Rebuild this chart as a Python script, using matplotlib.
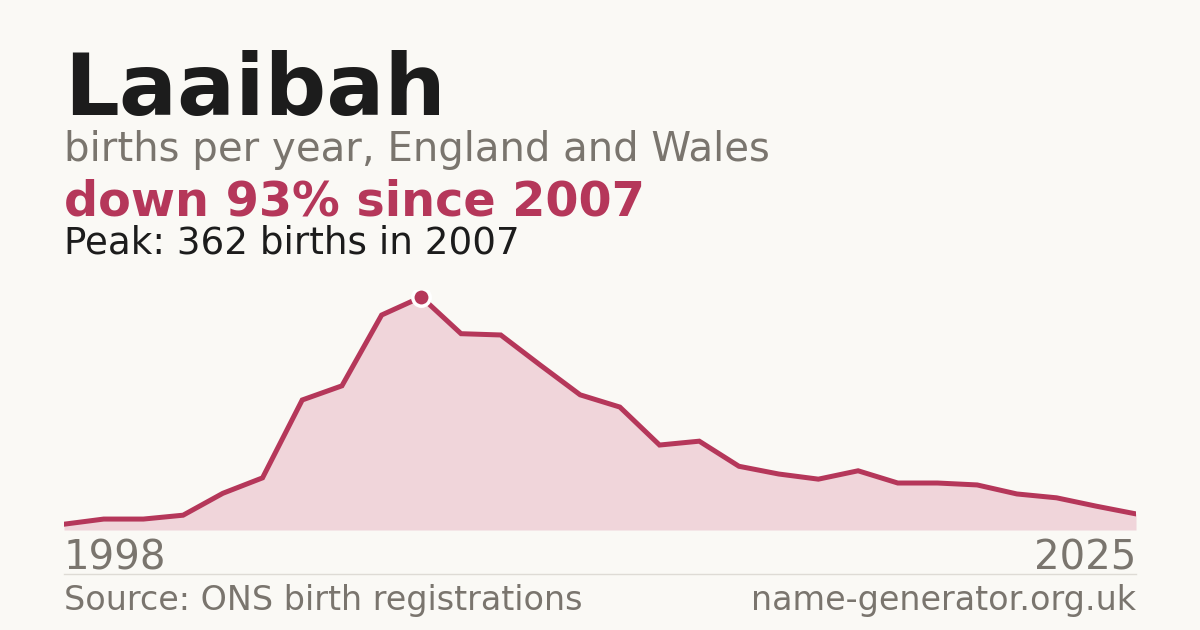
import numpy as np
import matplotlib
matplotlib.use("Agg")
from matplotlib import pyplot as plt

# births per year for the name
years = list(range(1998, 2026))
births = [9, 17, 17, 23, 57, 81, 202, 224, 334, 362, 305, 303, 256, 210,
          191, 132, 138, 99, 87, 79, 92, 73, 73, 70, 56, 50, 37, 25]

name = "Laaibah"
subtitle = "births per year, England and Wales"
source = "Source: ONS birth registrations"
site = "name-generator.org.uk"

bg = "#faf9f5"
red = "#b5375a"
fill = "#f0d5da"
grey = "#7a756e"

peak_i = int(np.argmax(births))
peak_year = years[peak_i]
peak_val = births[peak_i]
change = round((1 - births[-1] / peak_val) * 100)

fig = plt.figure(figsize=(12, 6.3), dpi=100, facecolor=bg)
W, H = 1200, 630

fig.text(64 / W, 1 - 115 / H, name, fontsize=62, fontweight="bold", color="#1c1c1c")
fig.text(64 / W, 1 - 161 / H, subtitle, fontsize=29, color=grey)
fig.text(64 / W, 1 - 215 / H, f"down {change}% since {peak_year}", fontsize=34.4,
         fontweight="bold", color=red)
fig.text(64 / W, 1 - 254 / H, f"Peak: {peak_val} births in {peak_year}", fontsize=26.8,
         color="#1c1c1c")

ax = fig.add_axes([64 / W, 1 - 530 / H, 1072 / W, 240 / H])
ax.set_facecolor(bg)
ax.fill_between(years, births, 0, color=fill, lw=0)
ax.plot(years, births, color=red, lw=3.6, solid_joinstyle="miter")
ax.plot(peak_year, peak_val, "o", ms=12.5, color=red, mec="white", mew=2.5, zorder=5)
ax.set_xlim(years[0], years[-1])
ax.set_ylim(0, peak_val * 240 / 233)
ax.axis("off")

fig.text(64 / W, 1 - 569 / H, str(years[0]), fontsize=29, color=grey)
fig.text(1136 / W, 1 - 569 / H, str(years[-1]), fontsize=29, color=grey, ha="right")
fig.add_artist(plt.Line2D([64 / W, 1136 / W], [1 - 574 / H] * 2, color="#dedbd5", lw=1))
fig.text(64 / W, 1 - 610 / H, source, fontsize=24, color=grey)
fig.text(1136 / W, 1 - 610 / H, site, fontsize=24, color=grey, ha="right")

fig.savefig("out.png", dpi=100, facecolor=bg)
